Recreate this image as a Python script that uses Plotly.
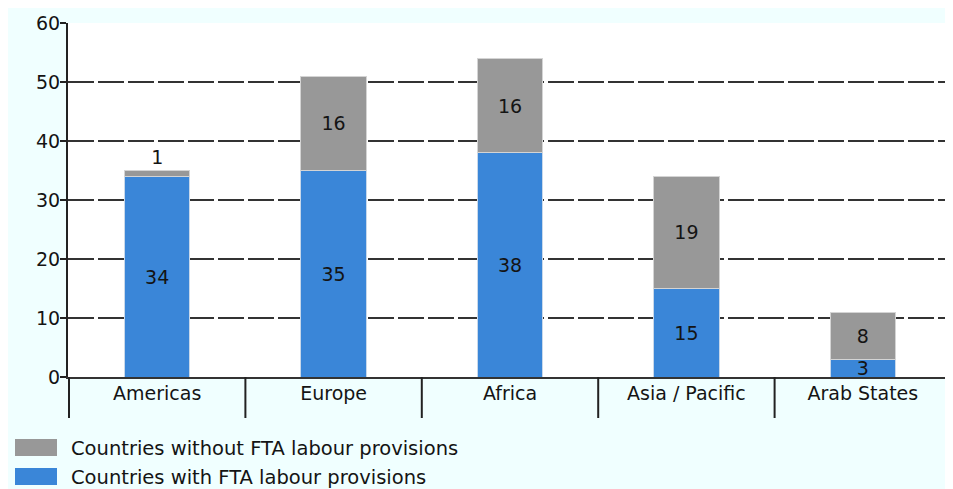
import plotly.graph_objects as go

categories = ["Americas", "Europe", "Africa", "Asia / Pacific", "Arab States"]
with_fta = [34, 35, 38, 15, 3]
without_fta = [1, 16, 16, 19, 8]
series_names = ["Countries without FTA labour provisions", "Countries with FTA labour provisions"]
y_ticks = [0, 10, 20, 30, 40, 50, 60]

BLUE = "#3a86d8"
GRAY = "#989898"
BG = "#f0ffff"
FONT = "DejaVu Sans"
TXT = "#141414"
FS = 19

OFF = 8  # page body margin
W, H = 945, 481
ML, MR, MT, MB = 60, 1, 15, 112
PW = W - ML - MR
PH = H - MT - MB

def px_x(p):
    return (p - OFF - ML) / PW

def px_y(p):
    return (H - MB - (p - OFF)) / PH

fig = go.Figure()
fig.add_trace(go.Bar(
    x=categories, y=with_fta, name=series_names[1],
    marker=dict(color=BLUE, line=dict(color="#c8d8ea", width=1)),
    text=[str(v) for v in with_fta], textposition="inside", textangle=0,
    insidetextanchor="middle", constraintext="none",
    textfont=dict(family=FONT, size=FS, color=TXT),
    showlegend=False,
))
fig.add_trace(go.Bar(
    x=categories, y=without_fta, name=series_names[0],
    marker=dict(color=GRAY, line=dict(color="#d4d4d4", width=1)),
    text=[str(v) for v in without_fta], textangle=0,
    textposition=["outside", "inside", "inside", "inside", "inside"],
    insidetextanchor="middle", constraintext="none", cliponaxis=False,
    textfont=dict(family=FONT, size=FS, color=TXT),
    showlegend=False,
))

shapes = []
# category separators below axis
for i in range(len(categories) + 1):
    shapes.append(dict(type="line", xref="x", yref="paper",
                       x0=i - 0.5, x1=i - 0.5, y0=px_y(418), y1=0,
                       line=dict(color="#222222", width=2)))

# manual legend
legend_items = [(series_names[0], GRAY, 439, 456, 448),
                (series_names[1], BLUE, 468, 485, 477)]
annotations = []
for name, col, top, bot, mid in legend_items:
    shapes.append(dict(type="rect", xref="paper", yref="paper",
                       x0=px_x(15), x1=px_x(57), y0=px_y(bot), y1=px_y(top),
                       fillcolor=col, line=dict(width=0)))
    annotations.append(dict(xref="paper", yref="paper", x=px_x(69), y=px_y(mid),
                            text=name, showarrow=False, xanchor="left", yanchor="middle",
                            font=dict(family=FONT, size=FS + 0.5, color=TXT)))

fig.update_layout(
    width=W, height=H,
    margin=dict(l=ML, r=MR, t=MT, b=MB, pad=0),
    paper_bgcolor=BG, plot_bgcolor="white",
    barmode="stack", bargap=0.63,
    font=dict(family=FONT, size=FS, color=TXT),
    shapes=shapes, annotations=annotations,
    xaxis=dict(showline=True, linecolor="#333333", linewidth=2, ticks="",
               showgrid=False, ticklabelstandoff=-2,
               tickfont=dict(family=FONT, size=FS, color=TXT)),
    yaxis=dict(range=[0, 60], tickvals=y_ticks, showline=True, linecolor="#222222",
               linewidth=2, ticks="outside", ticklen=6, tickwidth=2, tickcolor="#222222",
               showgrid=True, gridcolor="#333333", gridwidth=2, griddash="26px,4px",
               zeroline=False, ticklabelstandoff=-4,
               tickfont=dict(family=FONT, size=FS, color=TXT)),
)

fig.write_html("out.html")
